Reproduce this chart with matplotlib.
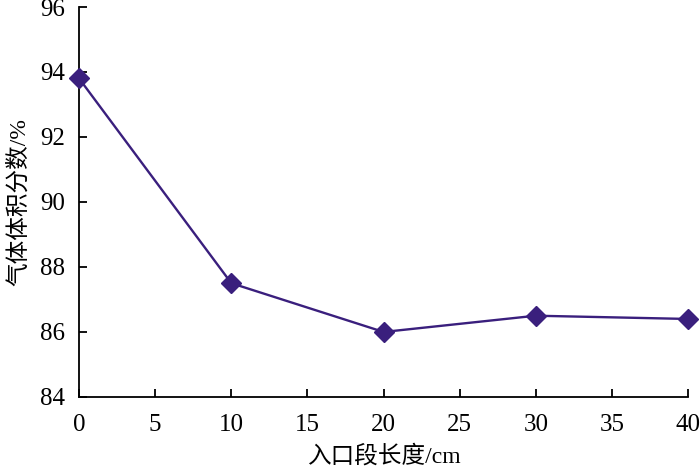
import matplotlib
import matplotlib.pyplot as plt

matplotlib.use("Agg")

# inlet section length (cm) vs gas volume fraction (%)
lengths = [0, 10, 20, 30, 40]
gas_fraction = [93.8, 87.5, 86.0, 86.5, 86.4]
x_ticks = [0, 5, 10, 15, 20, 25, 30, 35, 40]
y_ticks = [84, 86, 88, 90, 92, 94, 96]

plt.rcParams["font.family"] = ["Liberation Serif", "Noto Sans CJK SC"]

fig = plt.figure(figsize=(7, 4.67), dpi=100)
ax = fig.add_axes([0.113, 0.150, 0.870, 0.835])

color = "#3a1f7d"
ax.plot(lengths, gas_fraction, "-", color=color, linewidth=1.7,
        marker="D", markersize=10, markerfacecolor=color, markeredgecolor=color,
        clip_on=False, zorder=3)

ax.set_xlim(0, 40)
ax.set_ylim(84, 96)
ax.set_xticks(x_ticks)
ax.set_yticks(y_ticks)
ax.spines["top"].set_visible(False)
ax.spines["right"].set_visible(False)
ax.spines["left"].set_linewidth(1.3)
ax.spines["bottom"].set_linewidth(1.3)
ax.tick_params(direction="in", length=6, width=1.3, labelsize=18)
ax.tick_params(axis="x", pad=12)
ax.tick_params(axis="y", pad=10)

ax.set_xlabel("入口段长度/cm", fontsize=17, labelpad=7)
ax.set_ylabel("气体体积分数/%", fontsize=17, labelpad=7)

fig.savefig("out.png", dpi=100)
plt.close(fig)
